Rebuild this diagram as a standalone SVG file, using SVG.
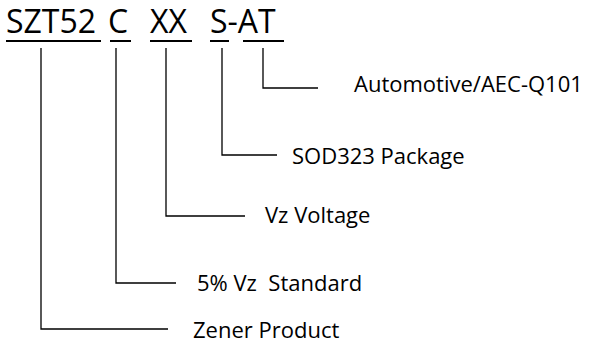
<svg xmlns="http://www.w3.org/2000/svg" width="590" height="347" viewBox="0 0 590 347">
<style>
.big{font-family:"Open Sans","Noto Sans",sans-serif;font-size:32px;fill:#000}
.lbl{font-family:"Open Sans","Noto Sans",sans-serif;font-size:22px;fill:#000}
.ul{stroke:#000;stroke-width:2}
.c{fill:none;stroke:#000;stroke-width:1.3}
</style>
<rect width="590" height="347" fill="#fff"/>
<g id="code">
<text class="big" x="6" y="33">SZT52</text>
<text class="big" x="108" y="33">C</text>
<text class="big" x="150" y="33">XX</text>
<text class="big" x="210" y="33">S-AT</text>
<line class="ul" x1="6" y1="41" x2="101" y2="41"/>
<line class="ul" x1="110" y1="41" x2="131" y2="41"/>
<line class="ul" x1="150" y1="41" x2="192" y2="41"/>
<line class="ul" x1="210" y1="41" x2="229" y2="41"/>
<line class="ul" x1="243" y1="41" x2="284" y2="41"/>
</g>
<g id="connectors">
<polyline class="c" points="263,48 263,88 318,88"/>
<polyline class="c" points="222,48 222,155 277,155"/>
<polyline class="c" points="166,48 166,216 245,216"/>
<polyline class="c" points="116,48 116,283 176,283"/>
<polyline class="c" points="41,48 41,329 168,329"/>
</g>
<g id="n-aec"><text class="lbl" x="354" y="92">Automotive/AEC-Q101</text></g>
<g id="n-pkg"><text class="lbl" x="292" y="164">SOD323 Package</text></g>
<g id="n-vz"><text class="lbl" x="265" y="223">Vz Voltage</text></g>
<g id="n-std"><text class="lbl" x="197" y="291" xml:space="preserve">5% Vz  Standard</text></g>
<g id="n-zener"><text class="lbl" x="193" y="338">Zener Product</text></g>
</svg>
